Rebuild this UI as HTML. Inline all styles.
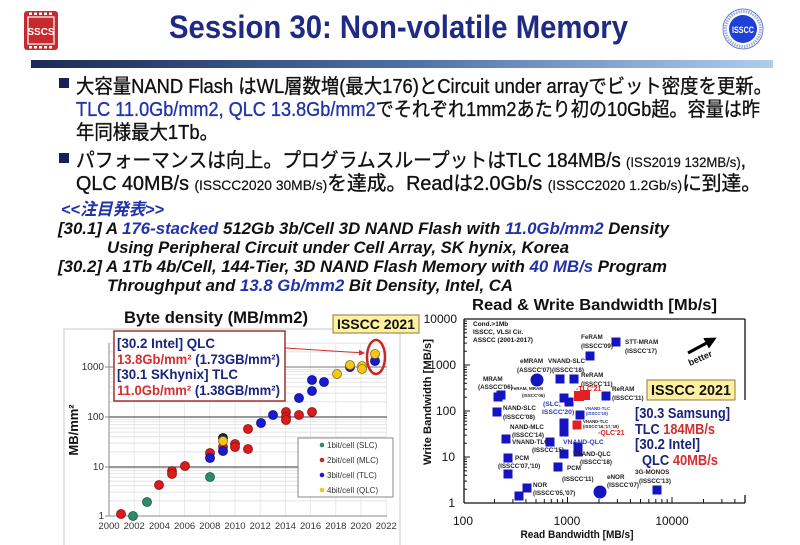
<!DOCTYPE html>
<html><head><meta charset="utf-8"><style>
html,body{margin:0;padding:0;background:#fff;}
svg{display:block;}
text{font-family:"Liberation Sans","Noto Sans CJK JP",sans-serif;}
</style></head><body>
<svg width="800" height="545" viewBox="0 0 800 545" xmlns="http://www.w3.org/2000/svg">
<defs>
<linearGradient id="bar" x1="0" x2="1" y1="0" y2="0">
<stop offset="0" stop-color="#1c2b55"/><stop offset="0.5" stop-color="#4d6fa6"/><stop offset="1" stop-color="#b0cdef"/>
</linearGradient>
<marker id="ah" markerWidth="6" markerHeight="6" refX="5" refY="3" orient="auto"><path d="M0,0 L6,3 L0,6 z" fill="#d32f2f"/></marker>
<marker id="bh" markerWidth="4" markerHeight="4" refX="3" refY="2" orient="auto"><path d="M0,0 L4,2 L0,4 z" fill="#000"/></marker>
</defs>
<rect width="800" height="545" fill="#fff"/>

<!-- SSCS logo -->
<rect x="24" y="11" width="34" height="39" rx="3" fill="#c62a2f"/>
<rect x="28" y="17" width="26" height="27" fill="none" stroke="#fff" stroke-width="1.2"/>
<g fill="#fff"><rect x="29" y="12.5" width="3" height="2.5"/><rect x="34" y="12.5" width="3" height="2.5"/><rect x="39" y="12.5" width="3" height="2.5"/><rect x="44" y="12.5" width="3" height="2.5"/><rect x="49" y="12.5" width="3" height="2.5"/>
<rect x="29" y="46" width="3" height="2.5"/><rect x="34" y="46" width="3" height="2.5"/><rect x="39" y="46" width="3" height="2.5"/><rect x="44" y="46" width="3" height="2.5"/><rect x="49" y="46" width="3" height="2.5"/></g>
<text x="41" y="35" font-size="10" font-weight="bold" fill="#fff" text-anchor="middle">SSCS</text>

<!-- Title -->
<text x="169" y="38" font-size="32" font-weight="bold" fill="#1e2a84" textLength="459" lengthAdjust="spacingAndGlyphs">Session 30: Non-volatile Memory</text>

<!-- ISSCC logo -->
<circle cx="743" cy="29" r="20" fill="#fff" stroke="#6b7fc4" stroke-width="1"/>
<circle cx="743" cy="29" r="17.5" fill="none" stroke="#9fb0dd" stroke-width="3" stroke-dasharray="1.5 1"/>
<circle cx="743" cy="29" r="14" fill="#1f3fd6"/>
<text x="743" y="33" font-size="9" font-weight="bold" fill="#fff" text-anchor="middle" textLength="22" lengthAdjust="spacingAndGlyphs">ISSCC</text>

<!-- Gradient bar -->
<rect x="31" y="60" width="742" height="8" fill="url(#bar)"/>

<!-- Bullets -->
<g stroke="#111" stroke-width="0.35">
<rect x="59" y="78" width="10" height="10" fill="#1a1f5a" stroke="none"/>
<text x="76" y="93" font-size="20" fill="#111" textLength="696" lengthAdjust="spacingAndGlyphs">大容量NAND Flash はWL層数増(最大176)とCircuit under arrayでビット密度を更新。</text>
<text x="76" y="116" font-size="20" fill="#111" textLength="684" lengthAdjust="spacingAndGlyphs"><tspan fill="#2233aa" stroke="#2233aa">TLC 11.0Gb/mm2, QLC 13.8Gb/mm2</tspan>でそれぞれ1mm2あたり初の10Gb超。容量は昨</text>
<text x="76" y="139" font-size="20" fill="#111" textLength="142" lengthAdjust="spacingAndGlyphs">年同様最大1Tb。</text>
<rect x="59" y="153" width="10" height="10" fill="#1a1f5a" stroke="none"/>
<text x="76" y="167" font-size="20" fill="#111" textLength="670" lengthAdjust="spacingAndGlyphs">パフォーマンスは向上。プログラムスループットはTLC 184MB/s <tspan font-size="14" stroke-width="0.2">(ISS2019 132MB/s)</tspan>,</text>
<text x="76" y="190" font-size="20" fill="#111" textLength="685" lengthAdjust="spacingAndGlyphs">QLC 40MB/s <tspan font-size="14" stroke-width="0.2">(ISSCC2020 30MB/s)</tspan>を達成。Readは2.0Gb/s <tspan font-size="14" stroke-width="0.2">(ISSCC2020 1.2Gb/s)</tspan>に到達。</text>
</g>

<!-- Notable papers -->
<g font-style="italic" font-weight="bold" font-size="17" fill="#111">
<text x="61" y="215" fill="#2233aa" textLength="103" lengthAdjust="spacingAndGlyphs">&lt;&lt;注目発表&gt;&gt;</text>
<text x="58" y="234" textLength="611" lengthAdjust="spacingAndGlyphs">[30.1] A <tspan fill="#2233aa">176-stacked</tspan> 512Gb 3b/Cell 3D NAND Flash with <tspan fill="#2233aa">11.0Gb/mm2</tspan> Density</text>
<text x="107" y="253" textLength="462" lengthAdjust="spacingAndGlyphs">Using Peripheral Circuit under Cell Array, SK hynix, Korea</text>
<text x="58" y="272" textLength="609" lengthAdjust="spacingAndGlyphs">[30.2] A 1Tb 4b/Cell, 144-Tier, 3D NAND Flash Memory with <tspan fill="#2233aa">40 MB/s</tspan> Program</text>
<text x="107" y="291" textLength="406" lengthAdjust="spacingAndGlyphs">Throughput and <tspan fill="#2233aa">13.8 Gb/mm2</tspan> Bit Density, Intel, CA</text>
</g>

<!-- ===== LEFT CHART ===== -->
<rect x="64" y="329" width="336" height="220" fill="#fff" stroke="#c8c8c8" stroke-width="1"/>
<text x="124" y="323" font-size="16.5" font-weight="bold" fill="#111" textLength="184" lengthAdjust="spacingAndGlyphs">Byte density (MB/mm2)</text>

<!-- minor grid -->
<g stroke="#dadada" stroke-width="0.7">
<line x1="109" x2="387" y1="500.9" y2="500.9"/><line x1="109" x2="387" y1="492.1" y2="492.1"/><line x1="109" x2="387" y1="485.9" y2="485.9"/><line x1="109" x2="387" y1="481.1" y2="481.1"/><line x1="109" x2="387" y1="477.1" y2="477.1"/><line x1="109" x2="387" y1="473.7" y2="473.7"/><line x1="109" x2="387" y1="470.8" y2="470.8"/><line x1="109" x2="387" y1="468.3" y2="468.3"/>
<line x1="109" x2="387" y1="451.9" y2="451.9"/><line x1="109" x2="387" y1="443.1" y2="443.1"/><line x1="109" x2="387" y1="436.9" y2="436.9"/><line x1="109" x2="387" y1="432.1" y2="432.1"/><line x1="109" x2="387" y1="428.1" y2="428.1"/><line x1="109" x2="387" y1="424.7" y2="424.7"/><line x1="109" x2="387" y1="421.8" y2="421.8"/><line x1="109" x2="387" y1="419.3" y2="419.3"/>
<line x1="109" x2="387" y1="401.9" y2="401.9"/><line x1="109" x2="387" y1="393.1" y2="393.1"/><line x1="109" x2="387" y1="386.9" y2="386.9"/><line x1="109" x2="387" y1="382.1" y2="382.1"/><line x1="109" x2="387" y1="378.1" y2="378.1"/><line x1="109" x2="387" y1="374.7" y2="374.7"/><line x1="109" x2="387" y1="371.8" y2="371.8"/><line x1="109" x2="387" y1="369.3" y2="369.3"/>
<line x1="109" x2="387" y1="351.9" y2="351.9"/><line x1="109" x2="387" y1="343.1" y2="343.1"/>
</g>
<g stroke="#e2e2e2" stroke-width="0.7">
<line x1="134.2" x2="134.2" y1="343" y2="516"/><line x1="159.4" x2="159.4" y1="343" y2="516"/><line x1="184.6" x2="184.6" y1="343" y2="516"/><line x1="209.8" x2="209.8" y1="343" y2="516"/><line x1="235" x2="235" y1="343" y2="516"/><line x1="260.2" x2="260.2" y1="343" y2="516"/><line x1="285.4" x2="285.4" y1="343" y2="516"/><line x1="310.6" x2="310.6" y1="343" y2="516"/><line x1="335.8" x2="335.8" y1="343" y2="516"/><line x1="361" x2="361" y1="343" y2="516"/><line x1="386.2" x2="386.2" y1="343" y2="516"/>
</g>
<g stroke="#333" stroke-width="1">
<line x1="109" x2="387" y1="467" y2="467"/><line x1="109" x2="387" y1="417" y2="417"/><line x1="109" x2="387" y1="367" y2="367" stroke="#777"/>
</g>
<g stroke="#888" stroke-width="1">
<line x1="109" x2="109" y1="343" y2="516"/><line x1="109" x2="387" y1="516" y2="516"/>
<line x1="105" x2="109" y1="516" y2="516"/><line x1="105" x2="109" y1="467" y2="467"/><line x1="105" x2="109" y1="417" y2="417"/><line x1="105" x2="109" y1="367" y2="367"/>
</g>
<g font-size="10" fill="#333" text-anchor="end">
<text x="104" y="370">1000</text><text x="104" y="420">100</text><text x="104" y="470">10</text><text x="104" y="519">1</text>
</g>
<g font-size="9.5" fill="#333" text-anchor="middle">
<text x="109" y="529">2000</text><text x="134.2" y="529">2002</text><text x="159.4" y="529">2004</text><text x="184.6" y="529">2006</text><text x="209.8" y="529">2008</text><text x="235" y="529">2010</text><text x="260.2" y="529">2012</text><text x="285.4" y="529">2014</text><text x="310.6" y="529">2016</text><text x="335.8" y="529">2018</text><text x="361" y="529">2020</text><text x="386.2" y="529">2022</text>
</g>
<text transform="translate(78,430) rotate(-90)" font-size="13" font-weight="bold" fill="#111" text-anchor="middle">MB/mm²</text>

<!-- data points -->
<g stroke-width="0.8">
<g fill="#2e8a68" stroke="#1c5a44">
<circle cx="133" cy="516" r="4.5"/><circle cx="147" cy="502" r="4.5"/><circle cx="210" cy="477" r="4.5"/>
</g>
<g fill="#d91c1c" stroke="#8a1010">
<circle cx="121" cy="514" r="4.5"/><circle cx="159" cy="485" r="4.5"/><circle cx="172" cy="471" r="4.5"/><circle cx="172" cy="474" r="4.5"/><circle cx="185" cy="466" r="4.5"/><circle cx="210" cy="453" r="4.5"/><circle cx="223" cy="447" r="4.5"/><circle cx="235" cy="444" r="4.5"/><circle cx="235" cy="447" r="4.5"/><circle cx="248" cy="429" r="4.5"/><circle cx="248" cy="449" r="4.5"/><circle cx="286" cy="412" r="4.5"/><circle cx="286" cy="417" r="4.5"/><circle cx="286" cy="420" r="4.5"/><circle cx="299" cy="415" r="4.5"/><circle cx="312" cy="412" r="4.5"/>
</g>
<g fill="#1a1ad2" stroke="#0c0c80">
<circle cx="210" cy="458" r="4.5"/><circle cx="223" cy="451" r="4.5"/><circle cx="261" cy="423" r="4.5"/><circle cx="273" cy="415" r="4.5"/><circle cx="299" cy="398" r="4.5"/><circle cx="312" cy="380" r="4.5"/><circle cx="312" cy="391" r="4.5"/><circle cx="324" cy="382" r="4.5"/><circle cx="350" cy="367" r="4.5"/><circle cx="375" cy="361" r="4.5"/>
</g>
<circle cx="223" cy="438" r="4.5" fill="#222" stroke="#000"/>
<g fill="#f5c518" stroke="#8a6d10">
<circle cx="223" cy="441" r="4.5"/><circle cx="337" cy="374" r="4.5"/><circle cx="350" cy="365" r="4.5"/><circle cx="362" cy="366" r="4.5"/><circle cx="362" cy="369" r="4.5"/><circle cx="375" cy="354" r="4.5"/>
</g>
</g>
<ellipse cx="376" cy="357" rx="9" ry="17" fill="none" stroke="#c62828" stroke-width="2.5"/>
<line x1="285" y1="348" x2="364" y2="353" stroke="#d32f2f" stroke-width="1" marker-end="url(#ah)"/>

<!-- annotation box -->
<rect x="114" y="331" width="171" height="70" fill="#fff" stroke="#a33030" stroke-width="1.5"/>
<g font-size="14" font-weight="bold" fill="#1a237e">
<text x="117" y="348" textLength="98" lengthAdjust="spacingAndGlyphs">[30.2 Intel]  QLC</text>
<text x="117" y="364" textLength="163" lengthAdjust="spacingAndGlyphs"><tspan fill="#d32f2f">13.8Gb/mm²</tspan> (1.73GB/mm²)</text>
<text x="117" y="379" textLength="121" lengthAdjust="spacingAndGlyphs">[30.1 SKhynix]  TLC</text>
<text x="117" y="395" textLength="163" lengthAdjust="spacingAndGlyphs"><tspan fill="#d32f2f">11.0Gb/mm²</tspan> (1.38GB/mm²)</text>
</g>

<!-- legend -->
<rect x="298" y="438" width="95" height="59" fill="#fff" stroke="#888" stroke-width="1"/>
<g font-size="8" fill="#333">
<circle cx="322" cy="445" r="2.3" fill="#2e8a68"/><text x="327" y="448">1bit/cell (SLC)</text>
<circle cx="322" cy="460" r="2.3" fill="#c62828"/><text x="327" y="463">2bit/cell (MLC)</text>
<circle cx="322" cy="475" r="2.3" fill="#1a1ad2"/><text x="327" y="478">3bit/cell (TLC)</text>
<circle cx="322" cy="490" r="2.3" fill="#f5c518"/><text x="327" y="493">4bit/cell (QLC)</text>
</g>

<!-- ISSCC 2021 box left -->
<rect x="333" y="315" width="86" height="18" fill="#fdf0a0" stroke="#8a7a3a" stroke-width="1"/>
<text x="376" y="329" font-size="14" font-weight="bold" fill="#111" text-anchor="middle" textLength="78" lengthAdjust="spacingAndGlyphs">ISSCC 2021</text>

<!-- ===== RIGHT CHART ===== -->
<text x="472" y="310" font-size="16" font-weight="bold" fill="#111" textLength="245" lengthAdjust="spacingAndGlyphs">Read &amp; Write Bandwidth [Mb/s]</text>
<g stroke="#111" stroke-width="1.3" fill="none">
<line x1="464" y1="319" x2="745" y2="319"/>
<line x1="464" y1="319" x2="464" y2="503"/>
<line x1="464" y1="503" x2="745" y2="503"/>
<line x1="745" y1="319" x2="745" y2="400"/>
<line x1="745" y1="495" x2="745" y2="503"/>
</g>
<!-- y ticks -->
<g stroke="#111" stroke-width="1">
<line x1="464" x2="470" y1="503" y2="503"/><line x1="464" x2="470" y1="457" y2="457"/><line x1="464" x2="470" y1="411" y2="411"/><line x1="464" x2="470" y1="365" y2="365"/><line x1="464" x2="470" y1="319" y2="319"/>
<line x1="464" x2="467" y1="489.2" y2="489.2"/><line x1="464" x2="467" y1="481.1" y2="481.1"/><line x1="464" x2="467" y1="475.3" y2="475.3"/><line x1="464" x2="467" y1="470.8" y2="470.8"/><line x1="464" x2="467" y1="467.2" y2="467.2"/><line x1="464" x2="467" y1="464.1" y2="464.1"/><line x1="464" x2="467" y1="461.5" y2="461.5"/><line x1="464" x2="467" y1="459.1" y2="459.1"/>
<line x1="464" x2="467" y1="443.2" y2="443.2"/><line x1="464" x2="467" y1="435.1" y2="435.1"/><line x1="464" x2="467" y1="429.3" y2="429.3"/><line x1="464" x2="467" y1="424.8" y2="424.8"/><line x1="464" x2="467" y1="421.2" y2="421.2"/><line x1="464" x2="467" y1="418.1" y2="418.1"/><line x1="464" x2="467" y1="415.5" y2="415.5"/><line x1="464" x2="467" y1="413.1" y2="413.1"/>
<line x1="464" x2="467" y1="397.2" y2="397.2"/><line x1="464" x2="467" y1="389.1" y2="389.1"/><line x1="464" x2="467" y1="383.3" y2="383.3"/><line x1="464" x2="467" y1="378.8" y2="378.8"/><line x1="464" x2="467" y1="375.2" y2="375.2"/><line x1="464" x2="467" y1="372.1" y2="372.1"/><line x1="464" x2="467" y1="369.5" y2="369.5"/><line x1="464" x2="467" y1="367.1" y2="367.1"/>
<line x1="464" x2="467" y1="351.2" y2="351.2"/><line x1="464" x2="467" y1="343.1" y2="343.1"/><line x1="464" x2="467" y1="337.3" y2="337.3"/><line x1="464" x2="467" y1="332.8" y2="332.8"/><line x1="464" x2="467" y1="329.2" y2="329.2"/><line x1="464" x2="467" y1="326.1" y2="326.1"/><line x1="464" x2="467" y1="323.5" y2="323.5"/><line x1="464" x2="467" y1="321.1" y2="321.1"/>
</g>
<!-- x ticks -->
<g stroke="#111" stroke-width="1">
<line x1="567.5" x2="567.5" y1="497" y2="503"/><line x1="672" x2="672" y1="497" y2="503"/>
<line x1="494.5" x2="494.5" y1="499" y2="503"/><line x1="512.9" x2="512.9" y1="499" y2="503"/><line x1="525.9" x2="525.9" y1="499" y2="503"/><line x1="536" x2="536" y1="499" y2="503"/><line x1="544.3" x2="544.3" y1="499" y2="503"/><line x1="551.3" x2="551.3" y1="499" y2="503"/><line x1="557.4" x2="557.4" y1="499" y2="503"/><line x1="562.7" x2="562.7" y1="499" y2="503"/>
<line x1="599" x2="599" y1="499" y2="503"/><line x1="617.4" x2="617.4" y1="499" y2="503"/><line x1="630.4" x2="630.4" y1="499" y2="503"/><line x1="640.5" x2="640.5" y1="499" y2="503"/><line x1="648.8" x2="648.8" y1="499" y2="503"/><line x1="655.8" x2="655.8" y1="499" y2="503"/><line x1="661.9" x2="661.9" y1="499" y2="503"/><line x1="667.2" x2="667.2" y1="499" y2="503"/>
<line x1="703.5" x2="703.5" y1="499" y2="503"/><line x1="721.9" x2="721.9" y1="499" y2="503"/><line x1="734.9" x2="734.9" y1="499" y2="503"/><line x1="745" x2="745" y1="499" y2="503"/>
</g>
<g font-size="12" fill="#111" text-anchor="end">
<text x="457" y="323">10000</text><text x="456" y="369">1000</text><text x="456" y="415">100</text><text x="455" y="461">10</text><text x="455" y="507">1</text>
</g>
<g font-size="12" fill="#111" text-anchor="middle">
<text x="463" y="525">100</text><text x="567" y="525">1000</text><text x="672" y="525">10000</text>
</g>
<text x="577" y="538" font-size="11" font-weight="bold" fill="#111" text-anchor="middle" textLength="113" lengthAdjust="spacingAndGlyphs">Read Bandwidth [MB/s]</text>
<text transform="translate(431,402) rotate(-90)" font-size="11" font-weight="bold" fill="#111" text-anchor="middle" textLength="126" lengthAdjust="spacingAndGlyphs">Write Bandwidth [MB/s]</text>

<!-- cond text -->
<g font-size="6.5" font-weight="bold" fill="#111">
<text x="473" y="326">Cond.&gt;1Mb</text><text x="473" y="334">ISSCC, VLSI Cir.</text><text x="473" y="342">ASSCC (2001-2017)</text>
</g>

<!-- squares -->
<g fill="#1414c0">
<rect x="585.5" y="351.5" width="9" height="9"/><rect x="611.5" y="337.5" width="9" height="9"/>
<rect x="555.5" y="374.5" width="9" height="9"/><rect x="569.5" y="374.5" width="9" height="9"/>
<rect x="493.5" y="392.5" width="9" height="9"/><rect x="496.5" y="390.5" width="9" height="9"/>
<rect x="492.5" y="407.5" width="9" height="9"/><rect x="601.5" y="391.5" width="9" height="9"/>
<rect x="559.5" y="393.5" width="9" height="9"/><rect x="564.5" y="397.5" width="9" height="9"/>
<rect x="575.5" y="410.5" width="9" height="9"/>
<rect x="559.5" y="418.5" width="9" height="9"/><rect x="559.5" y="427.5" width="9" height="9"/>
<rect x="501.5" y="434.5" width="9" height="9"/><rect x="545.5" y="437.5" width="9" height="9"/>
<rect x="573.5" y="442.5" width="9" height="9"/><rect x="573.5" y="447.5" width="9" height="9"/><rect x="559.5" y="449.5" width="9" height="9"/>
<rect x="503.5" y="453.5" width="9" height="9"/><rect x="503.5" y="469.5" width="9" height="9"/>
<rect x="553.5" y="462.5" width="9" height="9"/>
<rect x="522.5" y="483.5" width="9" height="9"/><rect x="514.5" y="491.5" width="9" height="9"/>
<rect x="652.5" y="485.5" width="9" height="9"/>
<circle cx="537" cy="380" r="6.5"/><circle cx="600" cy="492" r="6.5"/>
</g>
<g fill="#e52020">
<rect x="574" y="391" width="10" height="10"/><rect x="580" y="390" width="10" height="10"/>
<rect x="572.5" y="420.5" width="9" height="9"/>
</g>

<!-- labels -->
<g font-size="6.3" font-weight="bold" fill="#222">
<text x="581" y="339">FeRAM</text><text x="581" y="348">(ISSCC'09)</text>
<text x="625" y="344">STT-MRAM</text><text x="625" y="353">(ISSCC'17)</text>
<text x="520" y="363">eMRAM</text><text x="517" y="372">(ASSCC'07)</text>
<text x="548" y="363">VNAND-SLC</text><text x="552" y="372">(ISSCC'18)</text>
<text x="581" y="377">ReRAM</text><text x="581" y="386">(ISSCC'11)</text>
<text x="483" y="381">MRAM</text><text x="478" y="389">(ASSCC'06)</text>
<text x="511" y="390" font-size="4.5">FeRAM, MRAM</text><text x="522" y="397" font-size="4.5">(ISSCC'06)</text>
<text x="612" y="391">ReRAM</text><text x="612" y="400">(ISSCC'11)</text>
<text x="503" y="410">NAND-SLC</text><text x="503" y="419">(ISSCC'08)</text>
<text x="583" y="423" font-size="4.3">VNAND-TLC</text><text x="583" y="428" font-size="4.3">(ISSCC'16,'17,'18)</text>
<text x="510" y="429">NAND-MLC</text><text x="512" y="437">(ISSCC'14)</text>
<text x="512" y="444">VNAND-TLC</text><text x="532" y="452">(ISSCC'15)</text>
<text x="573" y="456">VNAND-QLC</text><text x="580" y="464">(ISSCC'18)</text>
<text x="515" y="460">PCM</text><text x="498" y="468">(ISSCC'07,'10)</text>
<text x="567" y="470">PCM</text><text x="562" y="481">(ISSCC'11)</text>
<text x="533" y="487">NOR</text><text x="533" y="495">(ISSCC'05,'07)</text>
<text x="607" y="479">eNOR</text><text x="607" y="487">(ISSCC'07)</text>
<text x="635" y="474">3G-MONOS</text><text x="639" y="483">(ISSCC'13)</text>
</g>
<g font-size="6.8" font-weight="bold" fill="#2f3bb8">
<text x="543" y="406">(SLC,</text><text x="542" y="414">ISSCC'20)</text>
<text x="563" y="444">VNAND-QLC</text>
<text x="585" y="410" font-size="4.3">VNAND-TLC</text><text x="586" y="415" font-size="4.3">(ISSCC'19)</text>
</g>
<g font-size="7" font-weight="bold" fill="#e02020">
<text x="576" y="391">-TLC'21</text><text x="598" y="435">-QLC'21</text>
</g>

<!-- better arrow -->
<line x1="688" y1="353" x2="714" y2="339" stroke="#000" stroke-width="3" marker-end="url(#bh)"/>
<text transform="translate(690,366) rotate(-24)" font-size="9" font-weight="bold" fill="#111">better</text>

<!-- ISSCC 2021 box right -->
<rect x="647" y="380" width="88" height="20" fill="#fdf0a0" stroke="#8a7a3a" stroke-width="1"/>
<text x="691" y="395" font-size="15" font-weight="bold" fill="#111" text-anchor="middle" textLength="80" lengthAdjust="spacingAndGlyphs">ISSCC 2021</text>

<g font-size="14.5" font-weight="bold" fill="#1a237e">
<text x="635" y="418" textLength="95" lengthAdjust="spacingAndGlyphs">[30.3 Samsung]</text>
<text x="635" y="434" textLength="80" lengthAdjust="spacingAndGlyphs">TLC <tspan fill="#d32f2f">184MB/s</tspan></text>
<text x="635" y="449" textLength="65" lengthAdjust="spacingAndGlyphs">[30.2 Intel]</text>
<text x="642" y="465" textLength="76" lengthAdjust="spacingAndGlyphs">QLC <tspan fill="#d32f2f">40MB/s</tspan></text>
</g>
</svg>
</body></html>
